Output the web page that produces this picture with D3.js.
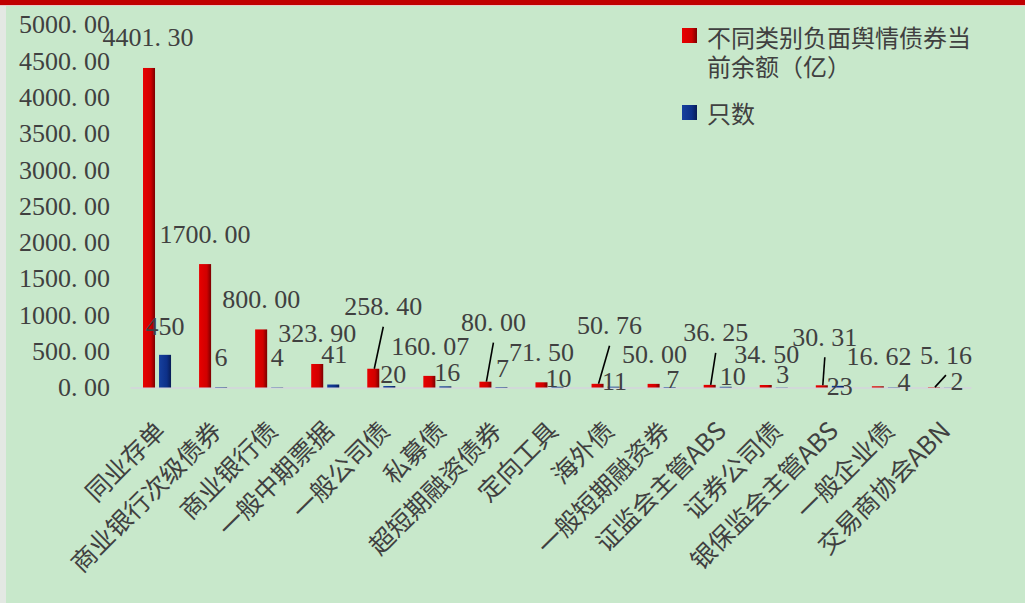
<!DOCTYPE html>
<html>
<head>
<meta charset="utf-8">
<script src="https://cdn.jsdelivr.net/npm/d3@7"></script>
<style>
  body { margin: 0; background: #c8e8cb; }
  svg { display: block; }
</style>
</head>
<body>
<div id="chart"></div>
<script>
// data
var categories = ["同业存单", "商业银行次级债券", "商业银行债", "一般中期票据", "一般公司债", "私募债",
  "超短期融资债券", "定向工具", "海外债", "一般短期融资券", "证监会主管ABS", "证券公司债",
  "银保监会主管ABS", "一般企业债", "交易商协会ABN"];
var amounts = [4401.30, 1700.00, 800.00, 323.90, 258.40, 160.07, 80.00, 71.50, 50.76, 50.00, 36.25, 34.50, 30.31, 16.62, 5.16];
var counts = [450, 6, 4, 41, 20, 16, 7, 10, 11, 7, 10, 3, 23, 4, 2];
var yTicks = [0, 500, 1000, 1500, 2000, 2500, 3000, 3500, 4000, 4500, 5000];
var seriesNames = ["不同类别负面舆情债券当前余额（亿）", "只数"];

// label placement (moved by hand in the original, so kept as offsets)
var amountLabelShift = [[-1, -30], [0, -30], [0, -30], [0, -30], [10, -62], [1, -29], [8, -59], [0, -30],
  [12, -58], [1, -29], [6, -52], [1, -30], [3, -48], [1, -30], [12, -32]];
var amountLeader = [0, 0, 0, 0, 1, 0, 1, 0, 1, 0, 1, 0, 1, 0, 1];
var countLabelShift = [[0, -28], [0, -30], [0, -30], [1, -30], [4, -12], [2, -14], [1, -18], [1, -8],
  [1, -5], [3, -7], [7, -10], [1, -13], [2, 1], [10, -5], [7, -6]];

var svgWidth = 1025;
var svgHeight = 603;
var numFont = "'Liberation Serif', 'DejaVu Serif', serif";
var cjkFont = "'Noto Sans CJK SC', 'Noto Sans', sans-serif";
var textColor = "#404040";

var svg = d3.select("#chart")
  .append("svg")
  .attr("width", svgWidth)
  .attr("height", svgHeight);

var defs = svg.append("defs");
function addGradient(id, stops) {
  var g = defs.append("linearGradient").attr("id", id)
    .attr("x1", "0%").attr("x2", "100%").attr("y1", "0%").attr("y2", "0%");
  stops.forEach(function (s) {
    g.append("stop").attr("offset", s[0]).attr("stop-color", s[1]);
  });
}
addGradient("redGrad", [["0%", "#e80000"], ["65%", "#d00000"], ["100%", "#7a0000"]]);
addGradient("blueGrad", [["0%", "#16409e"], ["65%", "#0d3088"], ["100%", "#081c55"]]);

// frame
svg.append("rect").attr("width", svgWidth).attr("height", svgHeight).attr("fill", "#c8e8cb");
svg.append("rect").attr("width", 6).attr("height", svgHeight).attr("fill", "#e3e8e3");
svg.append("rect").attr("width", svgWidth).attr("height", 5).attr("fill", "#c00000");
svg.append("rect").attr("y", 5).attr("width", svgWidth).attr("height", 1).attr("fill", "#e8c8c8");

// fmt like 5000.00 with a wide full stop
function fmt(v) {
  return d3.format(".2f")(v).replace(".", ".\u2005");
}

var x0 = d3.scaleBand()
  .domain(categories)
  .range([130, 971]);

var x1 = d3.scaleBand()
  .domain(["amount", "count"])
  .range([x0.bandwidth() * 0.232, x0.bandwidth() * 0.732])
  .paddingInner(0.25);

var y = d3.scaleLinear()
  .domain([0, 5000])
  .range([387.5, 24.5]);

// y axis
var leftAxis = d3.axisLeft(y).tickValues(yTicks).tickSize(0).tickPadding(20).tickFormat(fmt);
var yAxisG = svg.append("g")
  .attr("transform", "translate(130,0)")
  .call(leftAxis);
yAxisG.select(".domain").remove();
yAxisG.selectAll("text")
  .attr("font-family", numFont)
  .attr("font-size", 26)
  .attr("fill", textColor);

// x axis
var bottomAxis = d3.axisBottom(x0).tickSize(0);
var xAxisG = svg.append("g")
  .attr("transform", "translate(0,387.5)")
  .call(bottomAxis);
xAxisG.select(".domain").attr("stroke", "#d4d4dc").attr("stroke-width", 1.5);
xAxisG.selectAll("text")
  .attr("x", 0)
  .attr("y", 0)
  .attr("dy", 0)
  .attr("text-anchor", "end")
  .attr("transform", "translate(9,45) rotate(-45)")
  .attr("font-family", cjkFont)
  .attr("font-size", 25)
  .attr("fill", textColor);

// bars
var groups = svg.selectAll(".cat")
  .data(categories)
  .enter()
  .append("g")
  .attr("class", "cat")
  .attr("transform", d => `translate(${x0(d)},0)`);

groups.append("rect")
  .attr("x", x1("amount"))
  .attr("y", (d, i) => y(amounts[i]))
  .attr("width", x1.bandwidth())
  .attr("height", (d, i) => y(0) - y(amounts[i]))
  .attr("fill", "url(#redGrad)");

groups.append("rect")
  .attr("x", x1("count"))
  .attr("y", (d, i) => y(counts[i]))
  .attr("width", x1.bandwidth())
  .attr("height", (d, i) => y(0) - y(counts[i]))
  .attr("fill", "url(#blueGrad)");

// leader lines
groups.filter((d, i) => amountLeader[i])
  .append("line")
  .attr("x1", x1("amount") + x1.bandwidth() / 2 + 1)
  .attr("y1", d => y(amounts[categories.indexOf(d)]))
  .attr("x2", d => x1("amount") + x1.bandwidth() / 2 + amountLabelShift[categories.indexOf(d)][0])
  .attr("y2", d => { var i = categories.indexOf(d); return y(amounts[i]) + amountLabelShift[i][1] + 20; })
  .attr("stroke", "#000")
  .attr("stroke-width", 1.6);

// data labels
groups.append("text")
  .attr("x", (d, i) => x1("amount") + x1.bandwidth() / 2 + amountLabelShift[i][0])
  .attr("y", (d, i) => y(amounts[i]) + amountLabelShift[i][1])
  .attr("dominant-baseline", "central")
  .attr("text-anchor", "middle")
  .attr("font-family", numFont)
  .attr("font-size", 26)
  .attr("fill", textColor)
  .text((d, i) => fmt(amounts[i]));

groups.append("text")
  .attr("x", (d, i) => x1("count") + x1.bandwidth() / 2 + countLabelShift[i][0])
  .attr("y", (d, i) => y(counts[i]) + countLabelShift[i][1])
  .attr("dominant-baseline", "central")
  .attr("text-anchor", "middle")
  .attr("font-family", numFont)
  .attr("font-size", 26)
  .attr("fill", textColor)
  .text((d, i) => counts[i]);

// legend
var legend = svg.append("g").attr("transform", "translate(682,0)");
legend.append("rect").attr("x", 0).attr("y", 28).attr("width", 15).attr("height", 15).attr("fill", "url(#redGrad)");
legend.append("rect").attr("x", 0).attr("y", 105).attr("width", 15).attr("height", 15).attr("fill", "url(#blueGrad)");
var legText = legend.append("text")
  .attr("font-family", cjkFont)
  .attr("font-size", 24)
  .attr("fill", textColor);
legText.append("tspan").attr("x", 25).attr("y", 36).attr("dominant-baseline", "central")
  .text(seriesNames[0].slice(0, 11));
legText.append("tspan").attr("x", 25).attr("y", 65).attr("dominant-baseline", "central")
  .text(seriesNames[0].slice(11));
legend.append("text")
  .attr("x", 25).attr("y", 112)
  .attr("dominant-baseline", "central")
  .attr("font-family", cjkFont)
  .attr("font-size", 24)
  .attr("fill", textColor)
  .text(seriesNames[1]);
</script>
</body>
</html>
